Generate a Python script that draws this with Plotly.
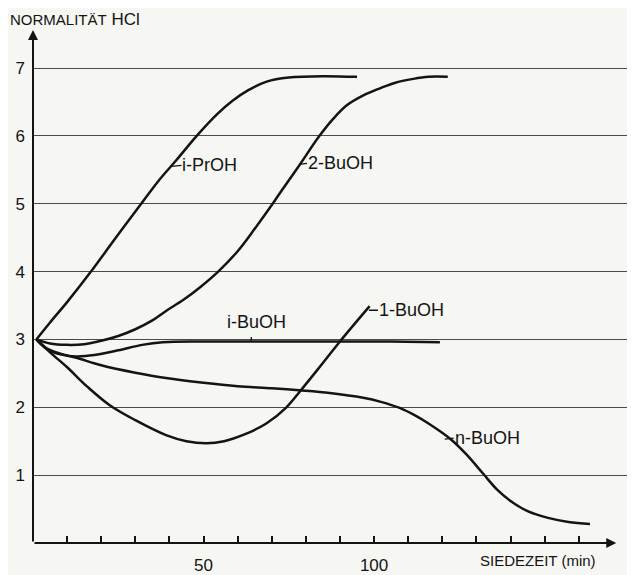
import plotly.graph_objects as go

# ---- data (Siedezeit in min, Normalität HCl) ----
ipr_x = [1, 5, 10, 17, 24, 31, 37, 42, 48, 54, 58.6, 63, 68.5, 75, 85, 95]
ipr_y = [3.0, 3.25, 3.55, 4.0, 4.48, 4.95, 5.35, 5.64, 6.0, 6.32, 6.52, 6.67, 6.8, 6.86, 6.88, 6.87]

sbu_x = [1, 5, 10, 15, 20, 25, 30, 35, 39, 44, 49, 54.3, 60, 65, 70, 72.3, 78, 84, 88, 92, 97, 101.7, 106, 111.5, 116, 121.6]
sbu_y = [3.0, 2.94, 2.92, 2.93, 2.98, 3.05, 3.15, 3.28, 3.42, 3.58, 3.77, 4.0, 4.3, 4.63, 4.98, 5.15, 5.56, 6.0, 6.25, 6.45, 6.6, 6.7, 6.78, 6.84, 6.87, 6.87]

one_x = [1, 5, 10, 16, 22.5, 30, 39, 45, 50.8, 56, 62, 68.4, 74.3, 78.2, 84, 90, 98.7]
one_y = [3.0, 2.81, 2.59, 2.3, 2.03, 1.81, 1.59, 1.5, 1.47, 1.5, 1.6, 1.76, 2.0, 2.23, 2.59, 2.97, 3.49]

ibu_x = [1, 4, 8, 12.7, 18, 25, 32, 38, 50, 70, 90, 105, 119.3]
ibu_y = [3.0, 2.86, 2.78, 2.75, 2.77, 2.84, 2.92, 2.96, 2.97, 2.97, 2.97, 2.97, 2.96]

nbu_x = [1, 4, 8, 12.7, 20, 30, 39, 50, 60, 70, 78, 87, 96.8, 102, 107.5, 112, 116.3, 122.2, 127, 132, 136, 140, 145, 151, 157, 163.3]
nbu_y = [3.0, 2.87, 2.79, 2.73, 2.62, 2.51, 2.43, 2.36, 2.31, 2.28, 2.25, 2.21, 2.14, 2.08, 1.99, 1.88, 1.75, 1.54, 1.31, 1.02, 0.79, 0.62, 0.47, 0.37, 0.31, 0.28]

x_ticks = [10, 20, 30, 40, 50, 60, 70, 80, 90, 100, 110, 120, 130, 140, 150, 160]
x_ticktext = ["", "", "", "", "50", "", "", "", "", "100", "", "", "", "", "", ""]
y_ticks = [1, 2, 3, 4, 5, 6, 7]
y_ticktext = ["1", "2", "3", "4", "5", "6", "7"]

# label anchor points on curves (name, x, y, dx_px, dy_px)
labels = [
    ("i-PrOH", 40.6, 5.55, 10, -1),
    ("2-BuOH", 78.0, 5.58, 8, -1),
    ("1-BuOH", 98.5, 3.43, 9, 0),
    ("n-BuOH", 120.7, 1.53, 9, -1),
]

FONT = "Liberation Sans, Arial, sans-serif"
INK = "#141414"
BG = "#f6f6f3"

fig = go.Figure()
for xs, ys in [(ipr_x, ipr_y), (sbu_x, sbu_y), (one_x, one_y), (ibu_x, ibu_y), (nbu_x, nbu_y)]:
    fig.add_trace(go.Scatter(x=xs, y=ys, mode="lines",
                             line=dict(color=INK, width=2.5, shape="spline", smoothing=1.0),
                             showlegend=False, hoverinfo="skip"))

annotations = []
for name, lx, ly, dx, dy in labels:
    annotations.append(dict(x=lx, y=ly, xref="x", yref="y", text=name, showarrow=True,
                            arrowhead=0, arrowwidth=1.3, arrowcolor=INK, ax=dx, ay=dy,
                            xanchor="left", yanchor="middle", borderpad=0,
                            font=dict(family=FONT, size=18, color=INK)))
# i-BuOH label with short vertical leader
annotations.append(dict(x=64, y=2.97, xref="x", yref="y", text="", showarrow=True,
                        arrowhead=0, arrowwidth=1.3, arrowcolor=INK, ax=0, ay=-6))
annotations.append(dict(x=64, y=2.97, xref="x", yref="y", text="i-BuOH", showarrow=False,
                        xshift=5, yshift=19, xanchor="center", yanchor="middle",
                        font=dict(family=FONT, size=18, color=INK)))
# axis arrows
annotations.append(dict(x=171, y=0, ax=0, ay=0, xref="x", yref="y", axref="x", ayref="y",
                        text="", showarrow=True, arrowhead=2, arrowsize=1, arrowwidth=2, arrowcolor=INK))
annotations.append(dict(x=0, y=7.56, ax=0, ay=0, xref="x", yref="y", axref="x", ayref="y",
                        text="", showarrow=True, arrowhead=2, arrowsize=1, arrowwidth=2, arrowcolor=INK))
# axis titles
annotations.append(dict(x=148, y=0, xref="x", yref="y", text="SIEDEZEIT (min)", showarrow=False,
                        yshift=-17, xanchor="center", yanchor="middle",
                        font=dict(family=FONT, size=15, color=INK)))
annotations.append(dict(x=-0.042, y=1.021, xref="paper", yref="paper",
                        text="<span style='font-size:15px'>NORMALITÄT</span> HCl", showarrow=False,
                        xanchor="left", yanchor="middle",
                        font=dict(family=FONT, size=17, color=INK)))

# the page body adds an 8 px margin, so the figure is drawn 8 px smaller and offset
fig.update_layout(
    width=627, height=567,
    margin=dict(l=25, r=0, t=22, b=30),
    paper_bgcolor=BG, plot_bgcolor=BG,
    annotations=annotations,
    xaxis=dict(range=[0, 176.5], tickvals=x_ticks, ticktext=x_ticktext, ticks="inside",
               ticklen=7, tickwidth=1.5, tickcolor=INK, showgrid=False, zeroline=False,
               showline=False, ticklabelstandoff=10,
               tickfont=dict(family=FONT, size=17, color=INK)),
    yaxis=dict(range=[0, 7.56], tickvals=y_ticks, ticktext=y_ticktext, ticks="",
               showgrid=True, gridcolor="#4a4a4a", gridwidth=1.4, zeroline=False,
               showline=False, ticklabelstandoff=7,
               tickfont=dict(family=FONT, size=17, color=INK)),
)

fig.write_html("out.html")
